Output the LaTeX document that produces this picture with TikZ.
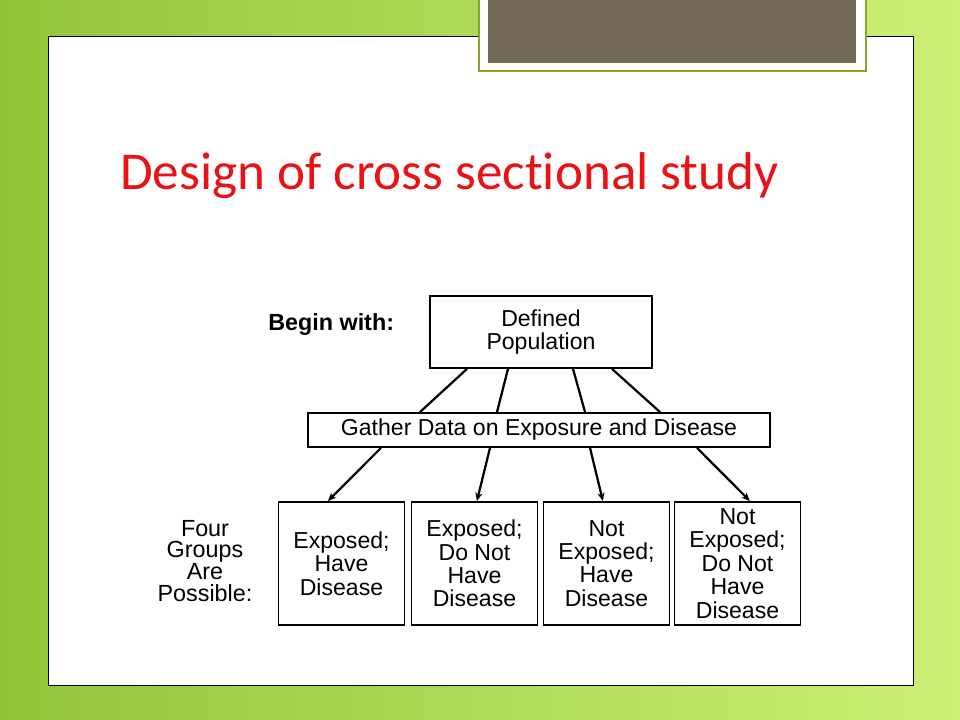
\documentclass[tikz,border=0pt]{standalone}
\usepackage{fontspec}
\setmainfont{Liberation Sans}
\newfontfamily\titlefont[Ligatures=NoCommon]{Carlito}
\usetikzlibrary{arrows.meta}

\definecolor{slidegreenL}{RGB}{146,196,58}
\definecolor{slidegreenR}{RGB}{204,240,118}
\definecolor{framegreen}{RGB}{132,166,42}
\definecolor{tabbrown}{RGB}{114,105,90}
\definecolor{titlered}{RGB}{234,18,20}

\tikzset{
  box/.style={draw, line width=1.3pt, align=center, inner sep=0pt,
    font=\fontsize{16.4}{16.6}\selectfont},
  groupbox/.style={box, minimum width=3.15cm, minimum height=3.075cm},
  sidelabel/.style={align=center, inner sep=0pt},
  link/.style={line width=1.6pt},
  arrowlink/.style={link, -{Stealth[length=6pt,width=5pt]}}
}

\begin{document}
\begin{tikzpicture}[x=0.025cm, y=-0.025cm]
    \useasboundingbox (0,0) rectangle (960,720);

    % slide background
    \shade[left color=slidegreenL, right color=slidegreenR] (0,0) rectangle (960,720);
    \draw[fill=white, line width=0.6pt] (48,36) rectangle (913,685);

    % tab at the top
    \fill[white] (479,0) rectangle (866,71);
    \draw[framegreen, line width=1.6pt] (479,0) |- (866,71) -- (866,0);
    \fill[tabbrown] (488,0) rectangle (856,63);

    % title
    \node[anchor=base west, inner sep=0pt, text=titlered,
          font=\titlefont\fontsize{37.8}{40}\selectfont] (title) at (120,190)
          {Design of cross sectional study};

    % diagram
    \node[box, minimum width=5.55cm, minimum height=1.8cm] (pop) at (541,332)
          {Defined\\Population};
    \node[sidelabel, anchor=west, font=\bfseries\fontsize{16.6}{16}\selectfont] (begin) at (268,325)
          {Begin with:};

    \node[box, minimum width=11.55cm, minimum height=0.85cm] (gather) at (539,430)
          {Gather Data on Exposure and Disease};

    \node[groupbox] (g1) at (341.5,563.5) {Exposed;\\Have\\Disease};
    \node[groupbox] (g2) at (474.5,563.5) {Exposed;\\Do Not\\Have\\Disease};
    \node[groupbox] (g3) at (606.5,563.5) {Not\\Exposed;\\Have\\Disease};
    \node[groupbox] (g4) at (737.5,563.5) {Not\\Exposed;\\Do Not\\Have\\Disease};

    \node[sidelabel, font=\fontsize{16.6}{15.6}\selectfont] (four) at (205,561)
          {Four\\Groups\\Are\\Possible:};

    % population to data
    \draw[link] ([xshift=-1.85cm]pop.south) -- ([xshift=-2.975cm]gather.north);
    \draw[link] ([xshift=-0.825cm]pop.south) -- ([xshift=-1.05cm]gather.north);
    \draw[link] ([xshift=0.8cm]pop.south) -- ([xshift=1.15cm]gather.north);
    \draw[link] ([xshift=1.775cm]pop.south) -- ([xshift=3.025cm]gather.north);

    % data to groups
    \draw[arrowlink] ([xshift=-3.95cm]gather.south) -- ([xshift=-0.34cm]g1.north);
    \draw[arrowlink] ([xshift=-1.225cm]gather.south) -- ([xshift=0.06cm]g2.north);
    \draw[arrowlink] ([xshift=1.275cm]gather.south) -- ([xshift=-0.09cm]g3.north);
    \draw[arrowlink] ([xshift=3.95cm]gather.south) -- ([xshift=0.31cm]g4.north);
\end{tikzpicture}
\end{document}
